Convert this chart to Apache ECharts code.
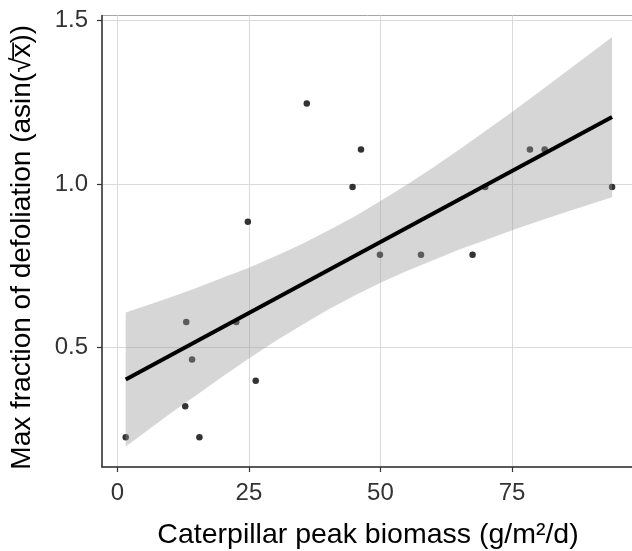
<!DOCTYPE html>
<html>
<head>
<meta charset="utf-8">
<script src="https://cdn.jsdelivr.net/npm/echarts@6/dist/echarts.min.js"></script>
<style>html,body{margin:0;padding:0;background:#fff}#c{width:632px;height:551px}</style>
</head>
<body>
<div id="c"></div>
<script>
// Observed data points
const biomass = [1.6, 12.9, 13.1, 14.2, 15.6, 22.6, 24.8, 26.3, 36.0, 44.7, 46.3, 49.9, 57.7, 67.5, 69.9, 78.4, 81.2, 94.0];
const defol   = [0.225, 0.320, 0.578, 0.463, 0.225, 0.578, 0.885, 0.398, 1.247, 0.991, 1.106, 0.784, 0.784, 0.784, 0.991, 1.106, 1.106, 0.991];
// Fitted line endpoints
const fitX = [1.6, 94.0];
const fitY = [0.402, 1.205];
// Confidence band
const bandX  = [1.6, 5, 10, 15, 20, 25, 30, 35, 40, 45, 50, 55, 60, 65, 70, 75, 80, 85, 90, 94];
const bandHi = [0.607, 0.625, 0.653, 0.682, 0.713, 0.744, 0.779, 0.816, 0.857, 0.900, 0.948, 0.998, 1.051, 1.106, 1.163, 1.221, 1.280, 1.341, 1.401, 1.450];
const bandLo = [0.197, 0.237, 0.297, 0.354, 0.411, 0.466, 0.519, 0.568, 0.615, 0.658, 0.698, 0.734, 0.767, 0.800, 0.829, 0.859, 0.886, 0.913, 0.939, 0.960];
const xTicks = [0, 25, 50, 75];
const yTicks = [0.5, 1.0, 1.5];

const chart = echarts.init(document.getElementById('c'), null, {renderer: 'canvas'});
const FONT = 'Liberation Sans, Arial, sans-serif';
const points = biomass.map((x, i) => [x, defol[i]]);
const bandData = bandX.map((x, i) => [x, bandLo[i], bandHi[i]]);

chart.setOption({
  animation: false,
  backgroundColor: '#ffffff',
  grid: {left: 102, top: 15.5, right: -2, bottom: 84, outerBoundsMode: 'none', containLabel: false,
         show: true, borderColor: '#a6a6a6', borderWidth: 1, backgroundColor: 'transparent'},
  xAxis: {
    type: 'value', min: -2.907, max: 98.17, interval: 25,
    name: 'Caterpillar peak biomass (g/m²/d)', nameLocation: 'middle', nameGap: 54,
    nameTextStyle: {fontFamily: FONT, fontSize: 28.5, color: '#000'},
    axisLine: {show: true, onZero: false, lineStyle: {color: '#333', width: 1.5}},
    axisTick: {show: true, length: 5, customValues: xTicks, lineStyle: {color: '#333', width: 1.2}},
    axisLabel: {customValues: xTicks, fontFamily: FONT, fontSize: 24, color: '#333', margin: 14, formatter: v => String(v)},
    splitLine: {show: true, lineStyle: {color: '#dadada', width: 1}}
  },
  yAxis: {
    type: 'value', min: 0.134, max: 1.516, interval: 0.5,
    name: 'Max fraction of defoliation (asin(√x̅))', nameLocation: 'middle', nameGap: 66,
    nameTextStyle: {fontFamily: FONT, fontSize: 28, color: '#000', padding: [0, 12, 0, 0]},
    axisLine: {show: true, onZero: false, lineStyle: {color: '#333', width: 1.5}},
    axisTick: {show: true, length: 5, customValues: yTicks, lineStyle: {color: '#333', width: 1.2}},
    axisLabel: {customValues: yTicks, fontFamily: FONT, fontSize: 24, color: '#333', margin: 14, formatter: v => v.toFixed(1)},
    splitLine: {show: true, lineStyle: {color: '#dadada', width: 1}}
  },
  series: [
    {type: 'scatter', data: points, symbolSize: 6.5, itemStyle: {color: '#000'}, z: 2},
    {type: 'custom', data: bandData, z: 3, silent: true,
      renderItem: function (params, api) {
        if (params.dataIndex !== 0) return null;
        const up = bandData.map(d => api.coord([d[0], d[2]]));
        const lo = bandData.map(d => api.coord([d[0], d[1]])).reverse();
        return {type: 'polygon', shape: {points: up.concat(lo)}, style: {fill: 'rgba(153,153,153,0.4)'}};
      }},
    {type: 'line', data: fitX.map((x, i) => [x, fitY[i]]), symbol: 'none', z: 4,
      lineStyle: {color: '#000', width: 4}}
  ]
});
</script>
</body>
</html>
